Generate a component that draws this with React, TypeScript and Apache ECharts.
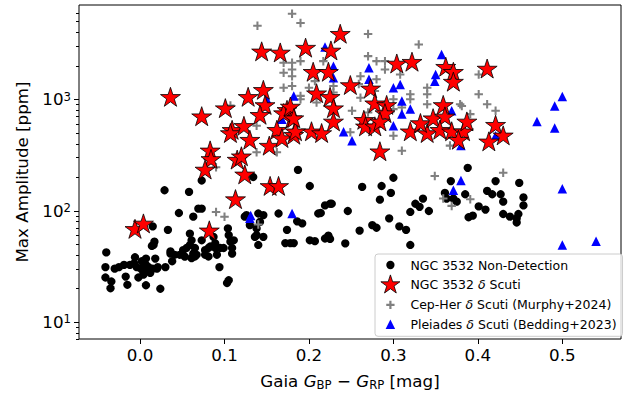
import React, { useEffect, useRef } from "react";
import * as echarts from "echarts";

// ---------- data (Gaia BP-RP colour [mag], max amplitude [ppm]) ----------
const nonDetection: number[][] = [
  [-0.040, 42], [-0.041, 31], [-0.041, 25], [-0.034, 23], [-0.035, 20], [-0.030, 30],
  [-0.025, 31], [-0.019, 32.5], [-0.017, 25.5], [-0.015, 21.5], [-0.012, 32.5], [-0.007, 33.5],
  [-0.006, 38], [-0.004, 31], [-0.002, 25], [0.001, 30], [0.002, 35], [0.004, 28],
  [0.004, 26.5], [0.007, 37], [0.007, 32.5], [0.007, 21.3], [0.010, 31], [0.011, 29.5],
  [0.012, 27.5], [0.014, 48], [0.015, 30], [0.016, 49], [0.017, 52.5], [0.015, 72],
  [0.018, 37], [0.020, 30], [0.021, 31], [0.024, 19.8], [0.029, 152], [0.030, 31],
  [0.033, 67], [0.036, 41], [0.036, 43], [0.038, 35], [0.041, 40], [0.046, 95],
  [0.047, 40], [0.051, 44], [0.053, 38.5], [0.055, 46], [0.058, 147], [0.059, 62],
  [0.059, 49], [0.061, 54], [0.061, 37.3], [0.063, 88], [0.063, 41], [0.065, 46],
  [0.065, 38.6], [0.067, 40], [0.069, 104], [0.073, 104], [0.073, 186], [0.073, 54],
  [0.077, 44], [0.077, 40], [0.081, 46], [0.081, 38.6], [0.083, 47.5], [0.087, 58],
  [0.089, 50.7], [0.089, 46], [0.091, 40], [0.094, 31], [0.095, 46], [0.099, 46],
  [0.104, 69], [0.105, 60], [0.107, 52.5], [0.109, 46], [0.109, 41], [0.103, 22.3],
  [0.105, 23.6], [0.111, 54], [0.134, 200], [0.124, 88], [0.126, 91], [0.130, 74],
  [0.138, 69], [0.140, 94], [0.142, 79], [0.146, 91], [0.136, 58], [0.138, 60],
  [0.146, 58], [0.140, 49], [0.164, 94], [0.174, 67], [0.172, 51], [0.178, 51],
  [0.182, 51], [0.187, 232], [0.186, 80], [0.192, 76.5], [0.201, 166], [0.201, 54],
  [0.207, 53], [0.211, 94], [0.214, 95], [0.219, 111], [0.225, 115], [0.227, 115],
  [0.219, 56], [0.223, 59.5], [0.225, 55.5], [0.243, 50.7], [0.246, 99], [0.260, 66],
  [0.263, 163], [0.275, 74], [0.280, 70], [0.284, 125], [0.286, 166], [0.295, 85],
  [0.297, 144], [0.300, 197], [0.307, 72], [0.315, 67], [0.320, 49], [0.320, 97],
  [0.326, 115], [0.331, 108], [0.335, 128], [0.342, 99], [0.361, 144], [0.363, 128],
  [0.368, 184], [0.371, 128], [0.375, 120], [0.385, 140], [0.388, 242], [0.389, 87],
  [0.394, 90], [0.401, 109], [0.409, 102], [0.411, 150], [0.417, 140], [0.421, 184],
  [0.427, 140], [0.430, 120], [0.430, 93], [0.438, 88], [0.446, 85], [0.448, 93],
  [0.446, 78], [0.449, 177], [0.454, 131], [0.454, 111],
];

const deltaScuti: number[][] = [
  [0.036, 1030], [0.073, 690], [0.101, 815], [0.128, 1030], [0.144, 2640], [0.166, 2580],
  [0.196, 2850], [0.146, 1190], [0.148, 870], [0.142, 710], [0.109, 520], [0.107, 487],
  [0.123, 565], [0.130, 424], [0.153, 375], [0.162, 521], [0.174, 787], [0.180, 662],
  [0.170, 735], [0.178, 843], [0.168, 439], [0.182, 470], [0.205, 1730], [0.209, 1110],
  [0.203, 505], [0.184, 505], [0.083, 340], [0.084, 285], [0.077, 229], [0.115, 281],
  [0.120, 301], [0.124, 207], [0.154, 163], [0.164, 163], [0.113, 124], [-0.006, 67],
  [0.004, 75], [0.082, 65], [0.237, 3800], [0.226, 2690], [0.223, 1730], [0.225, 1030],
  [0.249, 1315], [0.273, 1227], [0.229, 815], [0.229, 619], [0.215, 487], [0.278, 902],
  [0.292, 871], [0.290, 735], [0.265, 640], [0.267, 559], [0.278, 559], [0.284, 619],
  [0.304, 2053], [0.322, 2130], [0.362, 1920], [0.371, 1730], [0.371, 1410], [0.411, 1850],
  [0.320, 505], [0.340, 487], [0.332, 599], [0.347, 662], [0.359, 871], [0.361, 687],
  [0.355, 521], [0.369, 505], [0.383, 505], [0.387, 619], [0.377, 424], [0.421, 578],
  [0.413, 410], [0.430, 464], [0.284, 334], [0.182, 662],
];

const cepHer: number[][] = [
  [0.180, 5860], [0.190, 4840], [0.139, 4580], [0.170, 2130], [0.180, 2130], [0.190, 2200],
  [0.170, 1730], [0.180, 1850], [0.180, 1610], [0.170, 1270], [0.180, 1315], [0.190, 1072],
  [0.190, 1000], [0.200, 1270], [0.207, 1455], [0.209, 933], [0.217, 2200], [0.229, 1315],
  [0.229, 1150], [0.107, 880], [0.138, 578], [0.138, 334], [0.162, 334], [0.090, 245],
  [0.090, 97], [0.100, 88], [0.140, 75], [0.270, 3860], [0.330, 3100], [0.270, 2440],
  [0.280, 2200], [0.290, 2200], [0.290, 1850], [0.261, 1610], [0.259, 1370], [0.261, 1030],
  [0.280, 1515], [0.278, 1186], [0.308, 1670], [0.340, 1270], [0.340, 1110], [0.340, 902],
  [0.320, 1110], [0.320, 1000], [0.300, 1000], [0.300, 815], [0.310, 843], [0.251, 787],
  [0.270, 760], [0.381, 871], [0.379, 902], [0.391, 735], [0.401, 1670], [0.401, 1110],
  [0.411, 902], [0.421, 787], [0.300, 470], [0.249, 505], [0.310, 345], [0.349, 204],
  [0.430, 218], [0.359, 128], [0.369, 110], [0.391, 126], [0.367, 383],
];

const pleiades: number[][] = [
  [0.219, 2950], [0.229, 1980], [0.229, 1563], [0.271, 1920], [0.271, 1510], [0.300, 1270],
  [0.308, 1360], [0.357, 2525], [0.350, 1670], [0.349, 1450], [0.310, 966], [0.320, 815],
  [0.310, 735], [0.369, 787], [0.300, 578], [0.241, 510], [0.251, 424], [0.380, 383],
  [0.421, 470], [0.500, 1057], [0.491, 871], [0.470, 632], [0.491, 551], [0.500, 157],
  [0.380, 186], [0.371, 152], [0.500, 49], [0.540, 53], [0.130, 85], [0.131, 90],
  [0.180, 94], [0.150, 1000], [0.182, 1072], [0.168, 662],
];

const seriesNames = [
  "NGC 3532 Non-Detection",
  "NGC 3532 δ Scuti",
  "Cep-Her δ Scuti (Murphy+2024)",
  "Pleiades δ Scuti (Bedding+2023)",
];

const xTicks = [0.0, 0.1, 0.2, 0.3, 0.4, 0.5];
const yMajorTicks = [10, 100, 1000];
const yMinorTicks = [
  7, 8, 9, 20, 30, 40, 50, 60, 70, 80, 90, 200, 300, 400, 500, 600, 700, 800, 900,
  2000, 3000, 4000, 5000, 6000,
];
const X_MIN = -0.0723;
const X_MAX = 0.5695;
const Y_MIN = 7.0;
const Y_MAX = 7030;

// ---------- styles ----------
const FONT = "'DejaVu Sans', sans-serif";
const STAR_PATH =
  "path://M0 0L0 0M100 100L100 100M50 0L61.23 34.55L97.55 34.55L68.17 55.9L79.39 90.45L50 69.1L20.61 90.45L31.83 55.9L2.45 34.55L38.77 34.55Z";
const PLUS_PATH = "path://M38 0L62 0L62 38L100 38L100 62L62 62L62 100L38 100L38 62L0 62L0 38L38 38Z";
const LEG_CIRCLE =
  "path://M0 0L0 0M100 100L100 100M29.25 50A20.75 20.75 0 1 0 70.75 50A20.75 20.75 0 1 0 29.25 50Z";
const LEG_PLUS =
  "path://M0 0L0 0M100 100L100 100M44.5 29.25L55.5 29.25L55.5 44.5L70.75 44.5L70.75 55.5L55.5 55.5L55.5 70.75L44.5 70.75L44.5 55.5L29.25 55.5L29.25 44.5L44.5 44.5Z";
const LEG_TRI = "path://M0 0L0 0M100 100L100 100M26.25 73.75L50 26.25L73.75 73.75Z";

function buildOption() {
  const tickData = [
    ...yMajorTicks.map((v) => [X_MIN, v, 5]),
    ...yMinorTicks.map((v) => [X_MIN, v, 3]),
  ];
  return {
    animation: false,
    backgroundColor: "#ffffff",
    grid: {
      left: 79,
      top: 5,
      right: 7,
      bottom: 55,
      show: true,
      borderColor: "#000",
      borderWidth: 1,
      backgroundColor: "transparent",
    },
    xAxis: {
      type: "value",
      min: X_MIN,
      max: X_MAX,
      splitLine: { show: false },
      axisLine: { show: false },
      axisTick: { show: true, length: 5, customValues: xTicks, lineStyle: { color: "#000", width: 1 } },
      axisLabel: {
        customValues: xTicks,
        formatter: (v: number) => v.toFixed(1),
        fontSize: 16.7,
        fontFamily: FONT,
        color: "#000",
        margin: 7,
      },
      name: "{n|Gaia }{i|G}{s|BP}{n| − }{i|G}{s|RP}{n| [mag]}",
      nameLocation: "middle",
      nameGap: 31,
      nameTextStyle: {
        fontSize: 16.7,
        fontFamily: FONT,
        color: "#000",
        rich: {
          n: { fontSize: 16.7, fontFamily: FONT, color: "#000" },
          i: { fontSize: 16.7, fontFamily: FONT, color: "#000", fontStyle: "italic" },
          s: { fontSize: 11.7, fontFamily: FONT, color: "#000", padding: [9, 0, 0, 0] },
        },
      },
    },
    yAxis: {
      type: "log",
      logBase: 10,
      min: Y_MIN,
      max: Y_MAX,
      splitLine: { show: false },
      axisLine: { show: false },
      axisTick: { show: false },
      minorTick: { show: false },
      axisLabel: {
        margin: 8,
        formatter: (v: number) => {
          const l = Math.log10(v);
          const e = Math.round(l);
          if (Math.abs(l - e) > 1e-6) return "";
          return "{b|10}{s|" + e + "}";
        },
        rich: {
          b: { fontSize: 16.7, fontFamily: FONT, color: "#000" },
          s: { fontSize: 11.7, fontFamily: FONT, color: "#000", verticalAlign: "top" },
        },
      },
      name: "Max Amplitude [ppm]",
      nameLocation: "middle",
      nameRotate: 90,
      nameGap: 49,
      nameTextStyle: { fontSize: 16.7, fontFamily: FONT, color: "#000" },
    },
    legend: {
      orient: "vertical",
      left: 375,
      top: 254,
      padding: [1, 6, 2, 5],
      itemWidth: 20,
      itemHeight: 20,
      itemGap: -0.5,
      backgroundColor: "rgba(255,255,255,0.8)",
      borderColor: "#cccccc",
      borderWidth: 1,
      borderRadius: 3,
      selectedMode: false,
      formatter: (name: string) => name.replace("δ", "{i|δ}"),
      textStyle: {
        fontSize: 12.5,
        fontFamily: FONT,
        color: "#000",
        padding: [0, 0, 0, 5],
        rich: { i: { fontSize: 12.5, fontFamily: FONT, color: "#000", fontStyle: "italic" } },
      },
      data: [
        { name: seriesNames[0], icon: LEG_CIRCLE, itemStyle: { color: "#000", borderWidth: 0 } },
        { name: seriesNames[1], icon: STAR_PATH, itemStyle: { color: "#ff0000", borderColor: "#000", borderWidth: 0.8 } },
        { name: seriesNames[2], icon: LEG_PLUS, itemStyle: { color: "#808080", borderWidth: 0 } },
        { name: seriesNames[3], icon: LEG_TRI, itemStyle: { color: "#0000ff", borderWidth: 0 } },
      ],
    },
    series: [
      {
        name: seriesNames[0],
        type: "scatter",
        data: nonDetection,
        symbol: "circle",
        symbolSize: 8.3,
        itemStyle: { color: "#000", opacity: 1 },
      },
      {
        name: seriesNames[2],
        type: "scatter",
        data: cepHer,
        symbol: PLUS_PATH,
        symbolSize: 8.5,
        symbolKeepAspect: true,
        itemStyle: { color: "#808080", opacity: 1 },
      },
      {
        name: seriesNames[3],
        type: "scatter",
        data: pleiades,
        symbol: "triangle",
        symbolSize: 9.5,
        itemStyle: { color: "#0000ff", opacity: 1 },
      },
      {
        name: seriesNames[1],
        type: "scatter",
        data: deltaScuti,
        symbol: STAR_PATH,
        symbolSize: 21,
        symbolKeepAspect: true,
        itemStyle: { color: "#ff0000", borderColor: "#000", borderWidth: 0.8, opacity: 1 },
      },
      {
        name: "yTicks",
        type: "custom",
        clip: false,
        silent: true,
        data: tickData,
        encode: { x: 0, y: 1 },
        renderItem: (_params: any, api: any) => {
          const p = api.coord([api.value(0), api.value(1)]);
          const y = Math.round(p[1]) + 0.5;
          return {
            type: "line",
            shape: { x1: p[0] - api.value(2), y1: y, x2: p[0], y2: y },
            style: { stroke: "#000", lineWidth: 1 },
          };
        },
      },
    ],
  };
}

export default function App() {
  const ref = useRef<HTMLDivElement>(null);
  useEffect(() => {
    if (!ref.current) return;
    const chart = echarts.init(ref.current, null, { renderer: "svg" });
    chart.setOption(buildOption() as any);
    return () => chart.dispose();
  }, []);
  return (
    <div
      ref={ref}
      style={{ position: "fixed", left: 0, top: 0, width: 628, height: 396, background: "#fff" }}
    />
  );
}
